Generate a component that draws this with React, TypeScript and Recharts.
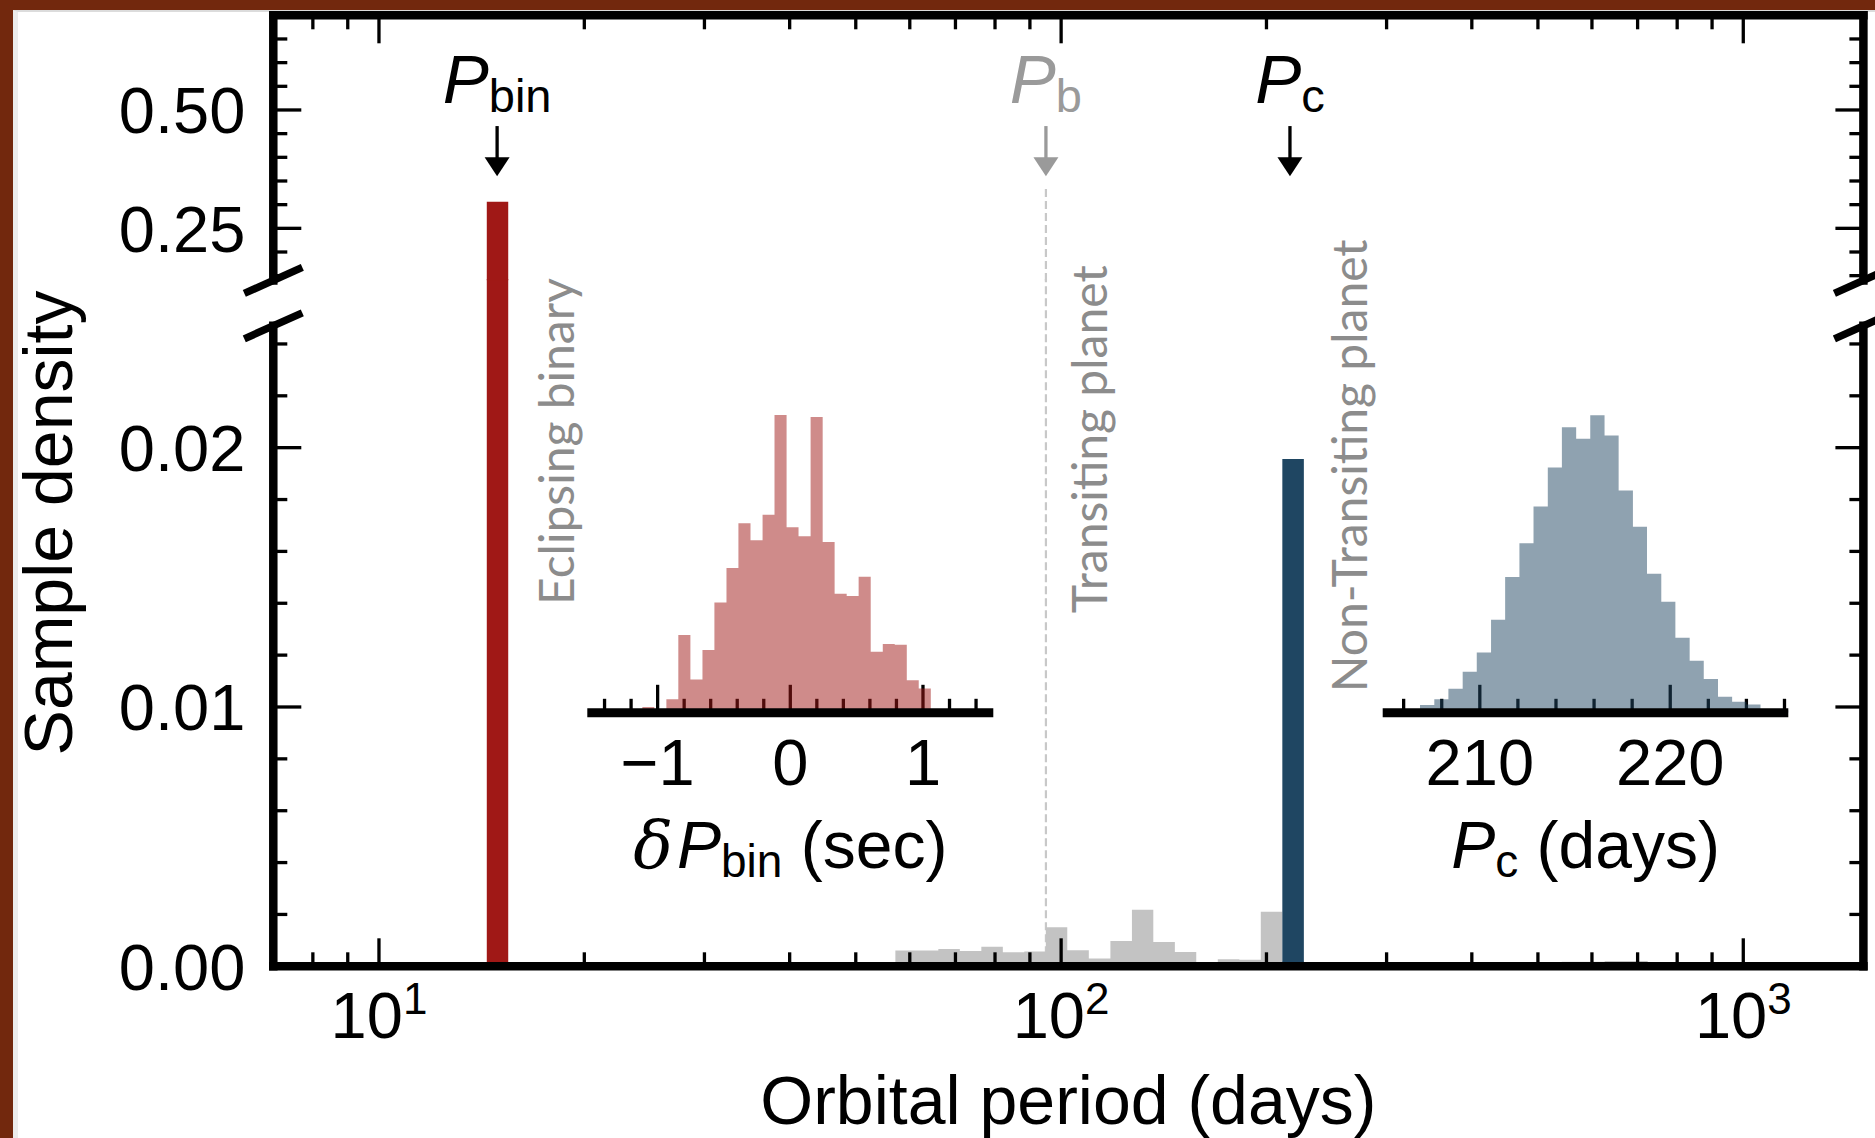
import React from 'react';
import { ComposedChart, XAxis, YAxis, Area, ReferenceLine, ReferenceDot } from 'recharts';

// ---------------- data ----------------
// Main panel: sample density of orbital period (log-spaced bins, days)
const grayBinEdges = [57.15, 61.44, 66.07, 71.04, 76.39, 82.14, 88.32, 94.97, 102.1, 109.8, 118.1, 127.0, 136.5, 146.8, 157.8, 169.7, 182.5, 196.2, 211.0, 226.9, 244.0, 262.3, 282.0, 303.2, 326.0, 350.6, 376.9, 405.3, 435.8, 468.6, 503.9, 541.8, 582.6, 626.4, 673.6, 724.2, 778.7];
const grayDensity = [0.00061, 0.00061, 0.00067, 0.00059, 0.00075, 0.00054, 0.00057, 0.00151, 0.00062, 0.0003, 0.00098, 0.00218, 0.00094, 0.00055, 0.00015, 0.00027, 0.00025, 0.0021, 0.0002, 0.00017, 0.00009, 0.00008, 0.00003, 0.00003, 0.00005, 0.00005, 0.00012, 0.00014, 0.00014, 0.00014, 0.00012, 0.00018, 0.00018, 0.0002, 0.0002, 0.0001];
const pcBinEdges = [211.0, 226.9, 235.0];
const pcDensity = [0.01956, 0.00017];
const pbinBinEdges = [14.39, 15.47];
const pbinDensity = [0.306];

// Inset 1: delta P_bin (sec)
const dPbinEdges = [-1.206, -1.115, -1.025, -0.934, -0.844, -0.753, -0.662, -0.572, -0.481, -0.391, -0.3, -0.209, -0.119, -0.028, 0.062, 0.153, 0.244, 0.334, 0.425, 0.515, 0.606, 0.697, 0.787, 0.878, 0.968, 1.059, 1.15];
const dPbinDensity = [0.005, 0.027, 0, 0.063, 0.364, 0.156, 0.294, 0.517, 0.678, 0.888, 0.809, 0.928, 1.395, 0.87, 0.827, 1.386, 0.8, 0.558, 0.547, 0.638, 0.286, 0.322, 0.319, 0.152, 0.114, 0.014];

// Inset 2: P_c (days)
const pcInsetEdges = [205.37, 206.12, 206.86, 207.61, 208.35, 209.1, 209.84, 210.59, 211.33, 212.08, 212.82, 213.57, 214.31, 215.06, 215.8, 216.55, 217.29, 218.04, 218.78, 219.53, 220.27, 221.02, 221.76, 222.51, 223.25, 224.0, 224.74, 225.49, 226.23];
const pcInsetDensity = [0.016, 0.016, 0.036, 0.063, 0.113, 0.192, 0.283, 0.436, 0.636, 0.794, 0.967, 1.15, 1.338, 1.284, 1.394, 1.3, 1.042, 0.872, 0.652, 0.52, 0.352, 0.244, 0.158, 0.075, 0.052, 0.039, 0.008, 0.0125];

// marked periods (days)
const P_BIN = 14.9;
const P_B = 95.0;
const P_C = 216.5;

// ticks
const xTicks = [8, 9, 10, 20, 30, 40, 50, 60, 70, 80, 90, 100, 200, 300, 400, 500, 600, 700, 800, 900, 1000];
const xMajor = [10, 100, 1000];
const xMajorExp = ['1', '2', '3'];
const upperYTicks = [0.15, 0.2, 0.25, 0.3, 0.35, 0.4, 0.45, 0.5, 0.55, 0.6, 0.65];
const upperYMajor = [0.25, 0.5];
const lowerYTicks = [0, 0.002, 0.004, 0.006, 0.008, 0.01, 0.012, 0.014, 0.016, 0.018, 0.02, 0.022, 0.024];
const lowerYMajor = [0, 0.01, 0.02];
const dPbinTicks = [-1.4, -1.2, -1, -0.8, -0.6, -0.4, -0.2, 0, 0.2, 0.4, 0.6, 0.8, 1, 1.2, 1.4];
const dPbinMajor = [-1, 0, 1];
const dPbinMajorLabels = ['\u22121', '0', '1'];
const pcInsetTicks = [206, 208, 210, 212, 214, 216, 218, 220, 222, 224, 226];
const pcInsetMajor = [210, 220];
const pcInsetMajorLabels = ['210', '220'];

// annotation anchors (data coordinates)
const ARROW_TOP = 0.466;
const ARROW_TIP = 0.36;
const DASH_TOP = 0.333;
const NOTES = [
  { text: 'Eclipsing binary', x: 19.3, y: 0.02024 },
  { text: 'Transiting planet', x: 116.6, y: 0.02032 },
  { text: 'Non-Transiting planet', x: 280.5, y: 0.0193 },
];

// ---------------- layout & style ----------------
const W = 1875;
const H = 1138;
const SANS = "'Liberation Sans', Arial, Helvetica, sans-serif";
const SERIF = "'DejaVu Serif', 'Liberation Serif', serif";
const NOTE_FONT = "Lato, 'Open Sans', sans-serif";

const PL = 273.3, PR = 1863.4, PT = 15.3, UB = 280.4, LT = 325.8, PB = 966.3;
const LOW_TOP_PX = UB - 1.5; // lower panel drawing area starts a hair above the upper panel bottom
const X_DOM = [7, 1500];
const UPPER_DOM = [0.14, 0.7];
const LOWER_TOP = 0.0247;
const LOWER_DOM = [0, (LOWER_TOP * (PB - LOW_TOP_PX)) / (PB - LT)];
const upperRegion = { left: PL, right: PR, top: PT, bottom: UB };
const lowerRegion = { left: PL, right: PR, top: LOW_TOP_PX, bottom: PB };
const INSET_TOP = 392.7, INSET_BASE = 712.8;
const inset1Region = { left: 587.3, right: 993.3, top: INSET_TOP, bottom: INSET_BASE };
const inset2Region = { left: 1382.7, right: 1788.3, top: INSET_TOP, bottom: INSET_BASE };
const INSET_Y_DOM = [0, 1.5];
const DP_DOM = [-1.53, 1.53];
const PC_DOM = [204.9, 226.2];

const RED = '#a01816';
const NAVY = '#1f4662';
const GRAY = '#c3c3c3';
const NOTE_GRAY = '#8c8c8c';
const PB_GRAY = '#9a9a9a';
const SPINE_W = 8.5;
const TICK_MAJ = 28;
const TICK_MIN = 14;
const TICK_W = 3.3;
const AX = 1; // size given to visible axes (must be > 0 for Recharts to draw them)

const spineStyle = { stroke: '#000', strokeWidth: SPINE_W, strokeLinecap: 'square' };

type Region = { left: number; right: number; top: number; bottom: number };
type Pad = { top?: number; bottom?: number; left?: number; right?: number };

function steps(edges: number[], vals: number[]) {
  return edges.map((e, i) => ({ x: e, y: i < vals.length ? vals[i] : vals[vals.length - 1] }));
}

const grayData = steps(grayBinEdges, grayDensity);
const pcData = steps(pcBinEdges, pcDensity);
const pbinData = steps(pbinBinEdges, pbinDensity);
const dPbinData = steps(dPbinEdges, dPbinDensity);
const pcInsetData = steps(pcInsetEdges, pcInsetDensity);

const isMajor = (v: number, majors: number[]) => majors.some((m) => Math.abs(m - v) < 1e-9);

function layer(key: string, region: Region, data: any[], children: React.ReactNode[], pad: Pad = {}) {
  return (
    <div key={key} style={{ position: 'absolute', left: 0, top: 0, width: W, height: H, pointerEvents: 'none' }}>
      <ComposedChart
        width={W}
        height={H}
        data={data}
        margin={{
          top: region.top - (pad.top || 0),
          right: W - region.right - (pad.right || 0),
          bottom: H - region.bottom - (pad.bottom || 0),
          left: region.left - (pad.left || 0),
        }}
      >
        {children}
      </ComposedChart>
    </div>
  );
}

function hiddenAxes(xDom: number[], yDom: number[], log: boolean) {
  return [
    <XAxis key="hx" dataKey="x" type="number" scale={log ? 'log' : 'linear'} domain={xDom} allowDataOverflow hide />,
    <YAxis key="hy" type="number" domain={yDom} allowDataOverflow hide />,
  ];
}

function histArea(color: string, opacity: number) {
  return (
    <Area
      key="area"
      type="stepAfter"
      dataKey="y"
      stroke="none"
      fill={color}
      fillOpacity={opacity}
      isAnimationActive={false}
      dot={false}
      activeDot={false}
    />
  );
}

// ---------------- ticks ----------------
function xTick(side: 'top' | 'bottom', majors: number[], labels: string[] | null, log: boolean, labelOffset: number) {
  return (props: any) => {
    const { x, y, payload } = props;
    const v = Number(payload.value);
    const major = isMajor(v, majors);
    const len = major ? TICK_MAJ : TICK_MIN;
    const s = side === 'bottom' ? -1 : 1;
    const idx = majors.findIndex((m) => Math.abs(m - v) < 1e-9);
    return (
      <g>
        <line x1={x} y1={y} x2={x} y2={y + s * len} stroke="#000" strokeWidth={TICK_W} />
        {major && labels ? (
          <text x={x} y={y + labelOffset} textAnchor="middle" fontFamily={SANS} fontSize={65} fill="#000">
            {log ? (
              <>
                10
                <tspan dy={-24} fontSize={44}>
                  {labels[idx]}
                </tspan>
              </>
            ) : (
              labels[idx]
            )}
          </text>
        ) : null}
      </g>
    );
  };
}

function yTick(side: 'left' | 'right', majors: number[], withLabel: boolean) {
  return (props: any) => {
    const { x, y, payload } = props;
    const v = Number(payload.value);
    const major = isMajor(v, majors);
    const len = major ? TICK_MAJ : TICK_MIN;
    const s = side === 'left' ? 1 : -1;
    return (
      <g>
        <line x1={x} y1={y} x2={x + s * len} y2={y} stroke="#000" strokeWidth={TICK_W} />
        {major && withLabel ? (
          <text x={x - 28} y={y + 23.3} textAnchor="end" fontFamily={SANS} fontSize={65} fill="#000">
            {v.toFixed(2)}
          </text>
        ) : null}
      </g>
    );
  };
}

const BreakMark = (props: any) => {
  const { cx, cy } = props;
  return <line x1={cx - 29} y1={cy + 13} x2={cx + 29} y2={cy - 13} stroke="#000" strokeWidth={7.5} />;
};

function arrowShape(color: string, sub: string) {
  return (props: any) => {
    const { x1, y1, x2, y2 } = props;
    const head = 19;
    const hw = 12.5;
    return (
      <g>
        <line x1={x1} y1={y1} x2={x2} y2={y2 - head + 2} stroke={color} strokeWidth={3.3} />
        <polygon points={`${x2 - hw},${y2 - head} ${x2 + hw},${y2 - head} ${x2},${y2}`} fill={color} />
        <text x={x1} y={y1 - 23} textAnchor="middle" fontFamily={SANS} fontSize={69} fill={color}>
          <tspan fontStyle="italic">P</tspan>
          <tspan fontSize={47} dy={9}>
            {sub}
          </tspan>
        </text>
      </g>
    );
  };
}

function noteShape(text: string) {
  return (props: any) => {
    const { cx, cy } = props;
    return (
      <text
        x={cx}
        y={cy}
        transform={`rotate(-90 ${cx} ${cy})`}
        textAnchor="middle"
        fontFamily={NOTE_FONT}
        fontSize={48}
        fill={NOTE_GRAY}
      >
        {text}
      </text>
    );
  };
}

const tickOnly = { interval: 0, tickSize: 0, tickMargin: 0, tickLine: false };

// ---------------- layers ----------------
function mainLayers() {
  const out: React.ReactNode[] = [];
  // dashed line marking P_b
  out.push(
    layer('dashU', upperRegion, grayData, [
      ...hiddenAxes(X_DOM, UPPER_DOM, true),
      <ReferenceLine
        key="d"
        segment={[{ x: P_B, y: DASH_TOP }, { x: P_B, y: UPPER_DOM[0] }]}
        stroke="#c8c8c8"
        strokeWidth={2.2}
        strokeDasharray="8 4"
        ifOverflow="visible"
      />,
    ])
  );
  out.push(
    layer('dashL', lowerRegion, grayData, [
      ...hiddenAxes(X_DOM, LOWER_DOM, true),
      <ReferenceLine key="d" x={P_B} stroke="#c8c8c8" strokeWidth={2.2} strokeDasharray="8 4" ifOverflow="visible" />,
    ])
  );
  // histograms
  out.push(layer('gray', lowerRegion, grayData, [...hiddenAxes(X_DOM, LOWER_DOM, true), histArea(GRAY, 1)]));
  out.push(layer('navy', lowerRegion, pcData, [...hiddenAxes(X_DOM, LOWER_DOM, true), histArea(NAVY, 1)]));
  out.push(layer('redL', lowerRegion, pbinData, [...hiddenAxes(X_DOM, LOWER_DOM, true), histArea(RED, 1)]));
  out.push(layer('redU', upperRegion, pbinData, [...hiddenAxes(X_DOM, UPPER_DOM, true), histArea(RED, 1)]));

  // lower axes
  out.push(
    layer(
      'axesL',
      lowerRegion,
      grayData,
      [
        <XAxis
          key="x"
          dataKey="x"
          type="number"
          scale="log"
          domain={X_DOM}
          allowDataOverflow
          ticks={xTicks}
          {...tickOnly}
          height={AX}
          axisLine={spineStyle}
          tick={xTick('bottom', xMajor, xMajorExp, true, 72)}
        />,
        <YAxis
          key="yl"
          yAxisId="l"
          orientation="left"
          type="number"
          domain={LOWER_DOM}
          allowDataOverflow
          ticks={lowerYTicks}
          {...tickOnly}
          width={AX}
          axisLine={false}
          tick={yTick('left', lowerYMajor, true)}
        />,
        <YAxis
          key="yr"
          yAxisId="r"
          orientation="right"
          type="number"
          domain={LOWER_DOM}
          allowDataOverflow
          ticks={lowerYTicks}
          {...tickOnly}
          width={AX}
          axisLine={false}
          tick={yTick('right', lowerYMajor, false)}
        />,
        <ReferenceLine
          key="sl"
          yAxisId="l"
          segment={[{ x: X_DOM[0], y: 0 }, { x: X_DOM[0], y: LOWER_TOP }]}
          stroke="#000"
          strokeWidth={SPINE_W}
          strokeLinecap="square"
          ifOverflow="visible"
        />,
        <ReferenceLine
          key="sr"
          yAxisId="l"
          segment={[{ x: X_DOM[1], y: 0 }, { x: X_DOM[1], y: LOWER_TOP }]}
          stroke="#000"
          strokeWidth={SPINE_W}
          strokeLinecap="square"
          ifOverflow="visible"
        />,
        <ReferenceDot key="bl" yAxisId="l" x={X_DOM[0]} y={LOWER_TOP} r={1} ifOverflow="visible" shape={BreakMark} />,
        <ReferenceDot key="br" yAxisId="l" x={X_DOM[1]} y={LOWER_TOP} r={1} ifOverflow="visible" shape={BreakMark} />,
        ...NOTES.map((n, i) => (
          <ReferenceDot key={'n' + i} yAxisId="l" x={n.x} y={n.y} r={1} ifOverflow="visible" shape={noteShape(n.text)} />
        )),
      ],
      { bottom: AX, left: AX, right: AX }
    )
  );

  // upper axes
  out.push(
    layer(
      'axesU',
      upperRegion,
      grayData,
      [
        <XAxis
          key="x"
          orientation="top"
          dataKey="x"
          type="number"
          scale="log"
          domain={X_DOM}
          allowDataOverflow
          ticks={xTicks}
          {...tickOnly}
          height={AX}
          axisLine={spineStyle}
          tick={xTick('top', xMajor, null, true, 0)}
        />,
        <YAxis
          key="yl"
          yAxisId="l"
          orientation="left"
          type="number"
          domain={UPPER_DOM}
          allowDataOverflow
          ticks={upperYTicks}
          {...tickOnly}
          width={AX}
          axisLine={spineStyle}
          tick={yTick('left', upperYMajor, true)}
        />,
        <YAxis
          key="yr"
          yAxisId="r"
          orientation="right"
          type="number"
          domain={UPPER_DOM}
          allowDataOverflow
          ticks={upperYTicks}
          {...tickOnly}
          width={AX}
          axisLine={spineStyle}
          tick={yTick('right', upperYMajor, false)}
        />,
        <ReferenceDot key="bl" yAxisId="l" x={X_DOM[0]} y={UPPER_DOM[0]} r={1} ifOverflow="visible" shape={BreakMark} />,
        <ReferenceDot key="br" yAxisId="l" x={X_DOM[1]} y={UPPER_DOM[0]} r={1} ifOverflow="visible" shape={BreakMark} />,
        <ReferenceLine
          key="a1"
          yAxisId="l"
          segment={[{ x: P_BIN, y: ARROW_TOP }, { x: P_BIN, y: ARROW_TIP }]}
          ifOverflow="visible"
          shape={arrowShape('#000', 'bin')}
        />,
        <ReferenceLine
          key="a2"
          yAxisId="l"
          segment={[{ x: P_B, y: ARROW_TOP }, { x: P_B, y: ARROW_TIP }]}
          ifOverflow="visible"
          shape={arrowShape(PB_GRAY, 'b')}
        />,
        <ReferenceLine
          key="a3"
          yAxisId="l"
          segment={[{ x: P_C, y: ARROW_TOP }, { x: P_C, y: ARROW_TIP }]}
          ifOverflow="visible"
          shape={arrowShape('#000', 'c')}
        />,
      ],
      { top: AX, left: AX, right: AX }
    )
  );
  return out;
}

function insetLayers(
  key: string,
  region: Region,
  data: any[],
  xDom: number[],
  ticks: number[],
  majors: number[],
  labels: string[],
  color: string
) {
  const xAxisBase = {
    dataKey: 'x',
    type: 'number' as const,
    domain: xDom,
    allowDataOverflow: true,
    ticks,
    interval: 0,
    tickSize: 0,
    tickMargin: 0,
    height: AX,
  };
  return [
    layer(
      key + 't',
      region,
      data,
      [
        <XAxis key="x" {...xAxisBase} axisLine={false} tickLine={false} tick={xTick('bottom', majors, labels, false, 72)} />,
        <YAxis key="y" type="number" domain={INSET_Y_DOM} allowDataOverflow hide />,
      ],
      { bottom: AX }
    ),
    layer(key + 'h', region, data, [...hiddenAxes(xDom, INSET_Y_DOM, false), histArea(color, 0.5)]),
    layer(
      key + 's',
      region,
      data,
      [
        <XAxis key="x" {...xAxisBase} axisLine={{ stroke: '#000', strokeWidth: 9 }} tickLine={false} tick={false} />,
        <YAxis key="y" type="number" domain={INSET_Y_DOM} allowDataOverflow hide />,
      ],
      { bottom: AX }
    ),
  ];
}

function Titles() {
  const c1 = (inset1Region.left + inset1Region.right) / 2;
  const c2 = (inset2Region.left + inset2Region.right) / 2;
  return (
    <svg width={W} height={H} style={{ position: 'absolute', left: 0, top: 0, pointerEvents: 'none' }}>
      <text
        x={72}
        y={523}
        transform="rotate(-90 72 523)"
        textAnchor="middle"
        fontFamily={SANS}
        fontSize={68}
        fill="#000"
      >
        Sample density
      </text>
      <text x={(PL + PR) / 2} y={1124} textAnchor="middle" fontFamily={SANS} fontSize={68} fill="#000">
        Orbital period (days)
      </text>
      <text x={c1} y={868} textAnchor="middle" fontFamily={SANS} fontSize={66} fill="#000" style={{ whiteSpace: 'pre' }}>
        <tspan fontFamily={SERIF} fontStyle="italic">
          δ
        </tspan>
        <tspan dx={4} fontStyle="italic">
          P
        </tspan>
        <tspan fontSize={46} dy={9}>
          bin
        </tspan>
        <tspan dy={-9}>{' (sec)'}</tspan>
      </text>
      <text x={c2} y={868} textAnchor="middle" fontFamily={SANS} fontSize={66} fill="#000" style={{ whiteSpace: 'pre' }}>
        <tspan fontStyle="italic">P</tspan>
        <tspan fontSize={46} dy={9}>
          c
        </tspan>
        <tspan dy={-9}>{' (days)'}</tspan>
      </text>
    </svg>
  );
}

export default function App() {
  return (
    <div style={{ position: 'relative', width: W, height: H, background: '#72280d', overflow: 'hidden' }}>
      <style>{'body{margin:0;}'}</style>
      <div
        style={{
          position: 'absolute',
          left: 13,
          top: 10,
          right: 0,
          bottom: 0,
          background: '#ffffff',
          borderLeft: '5px solid #ececec',
          borderTop: '2px solid #dcdcdc',
        }}
      />
      {mainLayers()}
      {insetLayers('i1', inset1Region, dPbinData, DP_DOM, dPbinTicks, dPbinMajor, dPbinMajorLabels, RED)}
      {insetLayers('i2', inset2Region, pcInsetData, PC_DOM, pcInsetTicks, pcInsetMajor, pcInsetMajorLabels, NAVY)}
      <Titles />
    </div>
  );
}
